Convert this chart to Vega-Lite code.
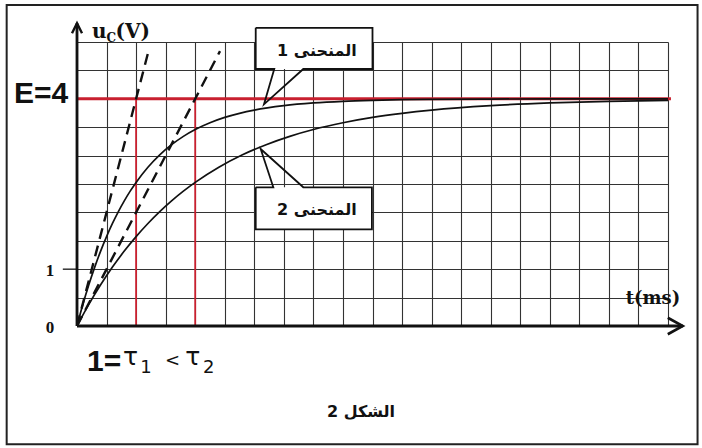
{
  "$schema": "https://vega.github.io/schema/vega-lite/v6.json",
  "width": 591,
  "height": 284,
  "autosize": {"type": "none"},
  "padding": {"left": 77, "top": 42, "right": 34, "bottom": 122},
  "background": "white",
  "config": {"view": {"stroke": null}},
  "encoding": {
    "x": {
      "field": "t", "type": "quantitative",
      "scale": {"domain": [0, 10], "nice": false, "zero": false},
      "axis": {"values": [0,0.5,1,1.5,2,2.5,3,3.5,4,4.5,5,5.5,6,6.5,7,7.5,8,8.5,9,9.5,10], "grid": true, "gridColor": "#333333", "gridWidth": 1.1, "gridOpacity": 1, "domain": false, "ticks": false, "labels": false, "title": null}
    },
    "y": {
      "field": "u", "type": "quantitative",
      "scale": {"domain": [0, 5], "nice": false, "zero": false},
      "axis": {"values": [0,0.5,1,1.5,2,2.5,3,3.5,4,4.5,5], "grid": true, "gridColor": "#333333", "gridWidth": 1.1, "gridOpacity": 1, "domain": false, "ticks": false, "labels": false, "title": null}
    }
  },
  "layer": [
    {
      "data": {"values": [{"t": -1.19, "t2": 10.5, "u": 5.65, "u2": -2.08}]},
      "mark": {"type": "rect", "fillOpacity": 0, "stroke": "#222222", "strokeWidth": 2},
      "encoding": {"x2": {"field": "t2"}, "y2": {"field": "u2"}}
    },
    {
      "data": {"values": [{"t": -0.24, "t2": 0, "u": 1, "u2": 1}]},
      "mark": {"type": "rule", "stroke": "#333333", "strokeWidth": 1.5},
      "encoding": {"x2": {"field": "t2"}, "y2": {"field": "u2"}}
    },
    {
      "data": {"values": [{"t": 1, "u": 0, "u2": 4}, {"t": 2, "u": 0, "u2": 4}]},
      "mark": {"type": "rule", "stroke": "#c8202f", "strokeWidth": 1.8},
      "encoding": {"y2": {"field": "u2"}}
    },
    {
      "data": {"values": [{"t": 0, "t2": 10.05, "u": 4}]},
      "mark": {"type": "rule", "stroke": "#c8202f", "strokeWidth": 3},
      "encoding": {"x2": {"field": "t2"}}
    },
    {
      "data": {"values": [
        {"curve": "1", "t": 0, "u": 0}, {"curve": "1", "t": 0.1, "u": 0.381}, {"curve": "1", "t": 0.2, "u": 0.725},
        {"curve": "1", "t": 0.3, "u": 1.037}, {"curve": "1", "t": 0.4, "u": 1.319}, {"curve": "1", "t": 0.5, "u": 1.574},
        {"curve": "1", "t": 0.6, "u": 1.805}, {"curve": "1", "t": 0.7, "u": 2.014}, {"curve": "1", "t": 0.8, "u": 2.203},
        {"curve": "1", "t": 0.9, "u": 2.374}, {"curve": "1", "t": 1.0, "u": 2.528}, {"curve": "1", "t": 1.2, "u": 2.795},
        {"curve": "1", "t": 1.4, "u": 3.014}, {"curve": "1", "t": 1.6, "u": 3.192}, {"curve": "1", "t": 1.8, "u": 3.339},
        {"curve": "1", "t": 2.0, "u": 3.459}, {"curve": "1", "t": 2.25, "u": 3.578}, {"curve": "1", "t": 2.5, "u": 3.672},
        {"curve": "1", "t": 2.75, "u": 3.744}, {"curve": "1", "t": 3.0, "u": 3.801}, {"curve": "1", "t": 3.5, "u": 3.879},
        {"curve": "1", "t": 4.0, "u": 3.927}, {"curve": "1", "t": 4.5, "u": 3.956}, {"curve": "1", "t": 5.0, "u": 3.973},
        {"curve": "1", "t": 5.5, "u": 3.984}, {"curve": "1", "t": 6.0, "u": 3.99}, {"curve": "1", "t": 7.0, "u": 3.996},
        {"curve": "1", "t": 8.0, "u": 3.999}, {"curve": "1", "t": 9.0, "u": 4.0}, {"curve": "1", "t": 10.0, "u": 4.0},
        {"curve": "2", "t": 0, "u": 0}, {"curve": "2", "t": 0.2, "u": 0.381}, {"curve": "2", "t": 0.4, "u": 0.725},
        {"curve": "2", "t": 0.6, "u": 1.037}, {"curve": "2", "t": 0.8, "u": 1.319}, {"curve": "2", "t": 1.0, "u": 1.574},
        {"curve": "2", "t": 1.2, "u": 1.805}, {"curve": "2", "t": 1.4, "u": 2.014}, {"curve": "2", "t": 1.6, "u": 2.203},
        {"curve": "2", "t": 1.8, "u": 2.374}, {"curve": "2", "t": 2.0, "u": 2.528}, {"curve": "2", "t": 2.4, "u": 2.795},
        {"curve": "2", "t": 2.8, "u": 3.014}, {"curve": "2", "t": 3.2, "u": 3.192}, {"curve": "2", "t": 3.6, "u": 3.339},
        {"curve": "2", "t": 4.0, "u": 3.459}, {"curve": "2", "t": 4.5, "u": 3.578}, {"curve": "2", "t": 5.0, "u": 3.672},
        {"curve": "2", "t": 5.5, "u": 3.744}, {"curve": "2", "t": 6.0, "u": 3.801}, {"curve": "2", "t": 7.0, "u": 3.879},
        {"curve": "2", "t": 8.0, "u": 3.927}, {"curve": "2", "t": 9.0, "u": 3.956}, {"curve": "2", "t": 10.0, "u": 3.973}
      ]},
      "mark": {"type": "line", "stroke": "#111111", "strokeWidth": 1.7, "interpolate": "monotone"},
      "encoding": {"detail": {"field": "curve"}}
    },
    {
      "data": {"values": [
        {"curve": "1", "t": 0, "u": 0}, {"curve": "1", "t": 1.21, "u": 4.84},
        {"curve": "2", "t": 0, "u": 0}, {"curve": "2", "t": 2.42, "u": 4.84}
      ]},
      "mark": {"type": "line", "stroke": "#111111", "strokeWidth": 2.4, "strokeDash": [11, 7]},
      "encoding": {"detail": {"field": "curve"}}
    },
    {
      "data": {"values": [{"t": 0, "t2": 10.25, "u": 0, "u2": 0}, {"t": 0, "t2": 0, "u": 0, "u2": 5.33}]},
      "mark": {"type": "rule", "stroke": "#111111", "strokeWidth": 2.8},
      "encoding": {"x2": {"field": "t2"}, "y2": {"field": "u2"}}
    },
    {
      "data": {"values": [{"t": 10.25, "u": 0}]},
      "mark": {"type": "point", "shape": "M -1 -0.55 L 0 0 L -1 0.55", "size": 900, "filled": false, "stroke": "#111111", "strokeWidth": 2.6, "opacity": 1}
    },
    {
      "data": {"values": [{"t": 0, "u": 5.33}]},
      "mark": {"type": "point", "shape": "M -0.5 1 L 0 0 L 0.5 1", "size": 400, "filled": false, "stroke": "#111111", "strokeWidth": 2.4, "opacity": 1}
    },
    {
      "data": {"values": [
        {"t": 3.024, "t2": 5.0, "u": 5.25, "u2": 4.525},
        {"t": 3.024, "t2": 4.99, "u": 2.442, "u2": 1.702}
      ]},
      "mark": {"type": "rect", "fill": "white", "strokeWidth": 0},
      "encoding": {"x2": {"field": "t2"}, "y2": {"field": "u2"}}
    },
    {
      "data": {"values": [
        {"box": "1", "o": 1, "t": 3.024, "u": 5.25}, {"box": "1", "o": 2, "t": 5.0, "u": 5.25},
        {"box": "1", "o": 3, "t": 5.0, "u": 4.525}, {"box": "1", "o": 4, "t": 3.829, "u": 4.525},
        {"box": "1", "o": 5, "t": 3.164, "u": 3.903}, {"box": "1", "o": 6, "t": 3.338, "u": 4.525},
        {"box": "1", "o": 7, "t": 3.024, "u": 4.525}, {"box": "1", "o": 8, "t": 3.024, "u": 5.25},
        {"box": "2", "o": 1, "t": 3.024, "u": 2.442}, {"box": "2", "o": 2, "t": 3.322, "u": 2.442},
        {"box": "2", "o": 3, "t": 3.108, "u": 3.116}, {"box": "2", "o": 4, "t": 3.829, "u": 2.442},
        {"box": "2", "o": 5, "t": 4.99, "u": 2.442}, {"box": "2", "o": 6, "t": 4.99, "u": 1.702},
        {"box": "2", "o": 7, "t": 3.024, "u": 1.702}, {"box": "2", "o": 8, "t": 3.024, "u": 2.442}
      ]},
      "mark": {"type": "line", "stroke": "#111111", "strokeWidth": 1.8, "strokeJoin": "miter"},
      "encoding": {"detail": {"field": "box"}, "order": {"field": "o"}}
    },
    {
      "data": {"values": [{"t": 4.06, "u": 4.84, "label": "المنحنى 1"}, {"t": 4.06, "u": 2.04, "label": "المنحنى 2"}, {"t": 4.805, "u": -1.514, "label": "الشكل 2"}]},
      "mark": {"type": "text", "font": "DejaVu Sans", "fontWeight": "bold", "fontSize": 16, "fill": "#111111", "align": "center", "baseline": "middle", "dir": "rtl"},
      "encoding": {"text": {"field": "label"}}
    },
    {
      "data": {"values": [{"t": -0.15, "u": 4.08, "label": "E=4"}]},
      "mark": {"type": "text", "font": "Liberation Sans", "fontWeight": "bold", "fontSize": 30, "fill": "#111111", "align": "right", "baseline": "middle"},
      "encoding": {"text": {"field": "label"}}
    },
    {
      "data": {"values": [{"t": 0, "u": 0, "label": "0"}, {"t": 0, "u": 1, "label": "1"}]},
      "mark": {"type": "text", "font": "Liberation Serif", "fontWeight": "bold", "fontSize": 17, "fill": "#111111", "align": "center", "baseline": "middle", "dx": -27, "dy": 2},
      "encoding": {"text": {"field": "label"}}
    },
    {
      "data": {"values": [{"t": 0.254, "u": 5.07, "label": "u"}, {"t": 0.65, "u": 5.07, "label": "(V)"}]},
      "mark": {"type": "text", "font": "DejaVu Serif", "fontWeight": "bold", "fontSize": 20, "fill": "#111111", "align": "left", "baseline": "alphabetic"},
      "encoding": {"text": {"field": "label"}}
    },
    {
      "data": {"values": [{"t": 0.5, "u": 5.0, "label": "C"}]},
      "mark": {"type": "text", "font": "DejaVu Serif", "fontWeight": "bold", "fontSize": 12, "fill": "#111111", "align": "left", "baseline": "alphabetic"},
      "encoding": {"text": {"field": "label"}}
    },
    {
      "data": {"values": [{"t": 9.746, "u": 0.475, "label": "t(ms)"}]},
      "mark": {"type": "text", "font": "DejaVu Serif", "fontWeight": "bold", "fontSize": 18, "fill": "#111111", "align": "center", "baseline": "middle"},
      "encoding": {"text": {"field": "label"}}
    },
    {
      "data": {"values": [{"t": 0.169, "u": -0.792, "label": "1="}]},
      "mark": {"type": "text", "font": "Liberation Sans", "fontWeight": "bold", "fontSize": 30, "fill": "#111111", "align": "left", "baseline": "alphabetic"},
      "encoding": {"text": {"field": "label"}}
    },
    {
      "data": {"values": [{"t": 0.778, "u": -0.687, "label": "τ"}, {"t": 1.83, "u": -0.687, "label": "τ"}]},
      "mark": {"type": "text", "font": "DejaVu Sans", "fontSize": 25, "fill": "#111111", "align": "left", "baseline": "alphabetic"},
      "encoding": {"text": {"field": "label"}}
    },
    {
      "data": {"values": [{"t": 1.07, "u": -0.827, "label": "1"}, {"t": 1.489, "u": -0.704, "label": "<"}, {"t": 2.13, "u": -0.827, "label": "2"}]},
      "mark": {"type": "text", "font": "DejaVu Sans", "fontSize": 18, "fill": "#111111", "align": "left", "baseline": "alphabetic"},
      "encoding": {"text": {"field": "label"}}
    }
  ]
}
